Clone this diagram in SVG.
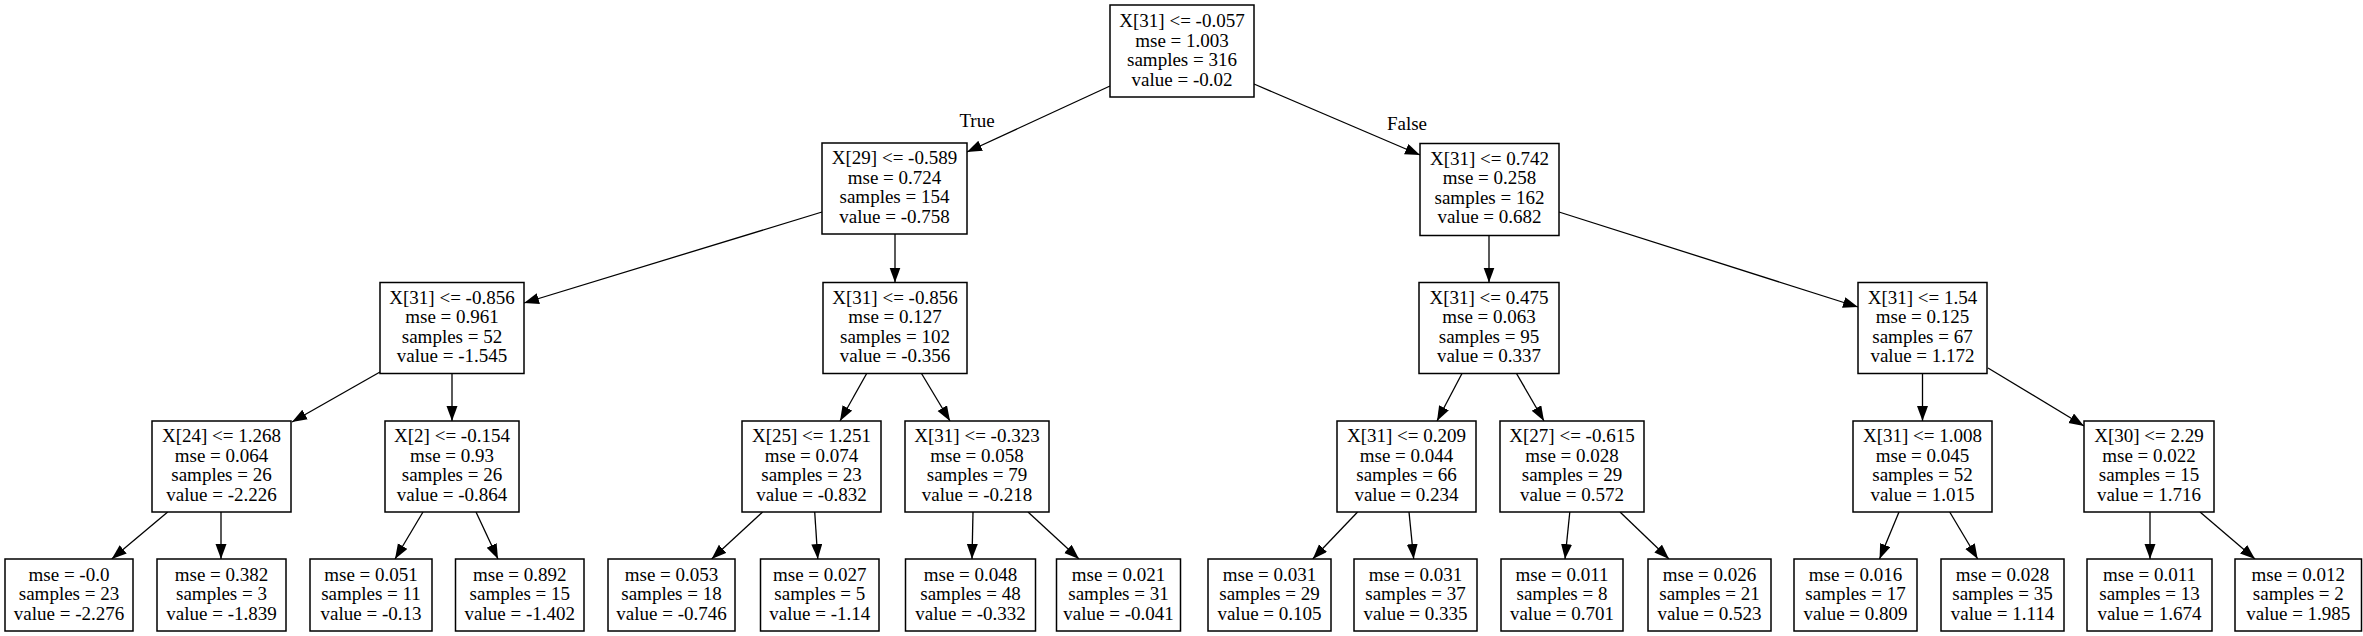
<svg xmlns="http://www.w3.org/2000/svg" width="2363" height="636" viewBox="0 0 2363 636">
<style>
.n rect{fill:#fff;stroke:#000;stroke-width:1.5}
text{font-family:"Liberation Serif","Times New Roman",serif;font-size:19px;fill:#000;text-anchor:middle}
.e line{stroke:#000;stroke-width:1.3}
</style>
<defs>
<marker id="a" markerUnits="userSpaceOnUse" markerWidth="16" markerHeight="12" refX="15" refY="5.5" orient="auto">
<path d="M0,0 L15,5.5 L0,11 z" fill="#000"/>
</marker>
</defs>
<rect width="2363" height="636" fill="#fff"/>
<g id="edges" class="e">
<line x1="1110" y1="86" x2="967" y2="152" marker-end="url(#a)"/>
<line x1="1254" y1="84" x2="1420" y2="155" marker-end="url(#a)"/>
<line x1="822" y1="212" x2="524" y2="303" marker-end="url(#a)"/>
<line x1="895" y1="234" x2="895" y2="282.5" marker-end="url(#a)"/>
<line x1="1489" y1="235" x2="1489" y2="282.5" marker-end="url(#a)"/>
<line x1="1559" y1="212" x2="1858" y2="307" marker-end="url(#a)"/>
<line x1="380" y1="372" x2="292" y2="422" marker-end="url(#a)"/>
<line x1="452" y1="373.5" x2="452" y2="421" marker-end="url(#a)"/>
<line x1="866.7" y1="373.5" x2="840" y2="421" marker-end="url(#a)"/>
<line x1="921.5" y1="373.5" x2="950" y2="421" marker-end="url(#a)"/>
<line x1="1462" y1="373.5" x2="1437" y2="421" marker-end="url(#a)"/>
<line x1="1516.5" y1="373.5" x2="1544" y2="421" marker-end="url(#a)"/>
<line x1="1922.5" y1="373.5" x2="1922.5" y2="421" marker-end="url(#a)"/>
<line x1="1988" y1="368" x2="2084" y2="426" marker-end="url(#a)"/>
<line x1="167.7" y1="512" x2="111.7" y2="559" marker-end="url(#a)"/>
<line x1="221" y1="512" x2="221" y2="559" marker-end="url(#a)"/>
<line x1="423" y1="512" x2="395" y2="559" marker-end="url(#a)"/>
<line x1="476" y1="512" x2="498" y2="559" marker-end="url(#a)"/>
<line x1="762.6" y1="512" x2="711.6" y2="559" marker-end="url(#a)"/>
<line x1="814.7" y1="512" x2="817.8" y2="559" marker-end="url(#a)"/>
<line x1="973" y1="512" x2="972" y2="559" marker-end="url(#a)"/>
<line x1="1028" y1="512" x2="1079" y2="559" marker-end="url(#a)"/>
<line x1="1357.6" y1="512" x2="1312.7" y2="559" marker-end="url(#a)"/>
<line x1="1409" y1="512" x2="1413.7" y2="559" marker-end="url(#a)"/>
<line x1="1569.8" y1="512" x2="1565" y2="559" marker-end="url(#a)"/>
<line x1="1620" y1="512" x2="1669" y2="559" marker-end="url(#a)"/>
<line x1="1899" y1="512" x2="1879.5" y2="559" marker-end="url(#a)"/>
<line x1="1949.7" y1="512" x2="1977.7" y2="559" marker-end="url(#a)"/>
<line x1="2150" y1="512" x2="2150" y2="559" marker-end="url(#a)"/>
<line x1="2200" y1="512" x2="2255" y2="559" marker-end="url(#a)"/>
<text x="977" y="127">True</text>
<text x="1407" y="130">False</text>
</g>
<g id="n0" class="n"><rect x="1110" y="5" width="144" height="92"/><text x="1182" y="27">X[31] &lt;= -0.057</text><text x="1182" y="46.5">mse = 1.003</text><text x="1182" y="66">samples = 316</text><text x="1182" y="85.5">value = -0.02</text></g>
<g id="n1" class="n"><rect x="822" y="143" width="145" height="91"/><text x="894.5" y="164">X[29] &lt;= -0.589</text><text x="894.5" y="183.5">mse = 0.724</text><text x="894.5" y="203">samples = 154</text><text x="894.5" y="222.5">value = -0.758</text></g>
<g id="n2" class="n"><rect x="1420" y="143.5" width="139" height="92"/><text x="1489.5" y="164.5">X[31] &lt;= 0.742</text><text x="1489.5" y="184">mse = 0.258</text><text x="1489.5" y="203.5">samples = 162</text><text x="1489.5" y="223">value = 0.682</text></g>
<g id="n3" class="n"><rect x="380" y="282.5" width="144" height="91"/><text x="452" y="303.5">X[31] &lt;= -0.856</text><text x="452" y="323">mse = 0.961</text><text x="452" y="342.5">samples = 52</text><text x="452" y="362">value = -1.545</text></g>
<g id="n4" class="n"><rect x="823" y="282.5" width="144" height="91"/><text x="895" y="303.5">X[31] &lt;= -0.856</text><text x="895" y="323">mse = 0.127</text><text x="895" y="342.5">samples = 102</text><text x="895" y="362">value = -0.356</text></g>
<g id="n5" class="n"><rect x="1419" y="282.5" width="140" height="91"/><text x="1489" y="303.5">X[31] &lt;= 0.475</text><text x="1489" y="323">mse = 0.063</text><text x="1489" y="342.5">samples = 95</text><text x="1489" y="362">value = 0.337</text></g>
<g id="n6" class="n"><rect x="1858" y="282.5" width="129" height="91"/><text x="1922.5" y="303.5">X[31] &lt;= 1.54</text><text x="1922.5" y="323">mse = 0.125</text><text x="1922.5" y="342.5">samples = 67</text><text x="1922.5" y="362">value = 1.172</text></g>
<g id="n7" class="n"><rect x="152" y="421" width="139" height="91"/><text x="221.5" y="442">X[24] &lt;= 1.268</text><text x="221.5" y="461.5">mse = 0.064</text><text x="221.5" y="481">samples = 26</text><text x="221.5" y="500.5">value = -2.226</text></g>
<g id="n8" class="n"><rect x="385" y="421" width="134" height="91"/><text x="452" y="442">X[2] &lt;= -0.154</text><text x="452" y="461.5">mse = 0.93</text><text x="452" y="481">samples = 26</text><text x="452" y="500.5">value = -0.864</text></g>
<g id="n9" class="n"><rect x="742" y="421" width="139" height="91"/><text x="811.5" y="442">X[25] &lt;= 1.251</text><text x="811.5" y="461.5">mse = 0.074</text><text x="811.5" y="481">samples = 23</text><text x="811.5" y="500.5">value = -0.832</text></g>
<g id="n10" class="n"><rect x="905" y="421" width="144" height="91"/><text x="977" y="442">X[31] &lt;= -0.323</text><text x="977" y="461.5">mse = 0.058</text><text x="977" y="481">samples = 79</text><text x="977" y="500.5">value = -0.218</text></g>
<g id="n11" class="n"><rect x="1337" y="421" width="139" height="91"/><text x="1406.5" y="442">X[31] &lt;= 0.209</text><text x="1406.5" y="461.5">mse = 0.044</text><text x="1406.5" y="481">samples = 66</text><text x="1406.5" y="500.5">value = 0.234</text></g>
<g id="n12" class="n"><rect x="1500" y="421" width="144" height="91"/><text x="1572" y="442">X[27] &lt;= -0.615</text><text x="1572" y="461.5">mse = 0.028</text><text x="1572" y="481">samples = 29</text><text x="1572" y="500.5">value = 0.572</text></g>
<g id="n13" class="n"><rect x="1853" y="421" width="139" height="91"/><text x="1922.5" y="442">X[31] &lt;= 1.008</text><text x="1922.5" y="461.5">mse = 0.045</text><text x="1922.5" y="481">samples = 52</text><text x="1922.5" y="500.5">value = 1.015</text></g>
<g id="n14" class="n"><rect x="2084" y="421" width="130" height="91"/><text x="2149" y="442">X[30] &lt;= 2.29</text><text x="2149" y="461.5">mse = 0.022</text><text x="2149" y="481">samples = 15</text><text x="2149" y="500.5">value = 1.716</text></g>
<g id="l1" class="n"><rect x="5" y="559" width="128" height="72"/><text x="69" y="580.5">mse = -0.0</text><text x="69" y="600">samples = 23</text><text x="69" y="619.5">value = -2.276</text></g>
<g id="l2" class="n"><rect x="157" y="559" width="129" height="72"/><text x="221.5" y="580.5">mse = 0.382</text><text x="221.5" y="600">samples = 3</text><text x="221.5" y="619.5">value = -1.839</text></g>
<g id="l3" class="n"><rect x="310" y="559" width="122" height="72"/><text x="371" y="580.5">mse = 0.051</text><text x="371" y="600">samples = 11</text><text x="371" y="619.5">value = -0.13</text></g>
<g id="l4" class="n"><rect x="455.5" y="559" width="128.5" height="72"/><text x="519.8" y="580.5">mse = 0.892</text><text x="519.8" y="600">samples = 15</text><text x="519.8" y="619.5">value = -1.402</text></g>
<g id="l5" class="n"><rect x="608" y="559" width="127" height="72"/><text x="671.5" y="580.5">mse = 0.053</text><text x="671.5" y="600">samples = 18</text><text x="671.5" y="619.5">value = -0.746</text></g>
<g id="l6" class="n"><rect x="760.5" y="559" width="118.5" height="72"/><text x="819.8" y="580.5">mse = 0.027</text><text x="819.8" y="600">samples = 5</text><text x="819.8" y="619.5">value = -1.14</text></g>
<g id="l7" class="n"><rect x="905.5" y="559" width="130" height="72"/><text x="970.5" y="580.5">mse = 0.048</text><text x="970.5" y="600">samples = 48</text><text x="970.5" y="619.5">value = -0.332</text></g>
<g id="l8" class="n"><rect x="1056.5" y="559" width="124" height="72"/><text x="1118.5" y="580.5">mse = 0.021</text><text x="1118.5" y="600">samples = 31</text><text x="1118.5" y="619.5">value = -0.041</text></g>
<g id="l9" class="n"><rect x="1208" y="559" width="123" height="72"/><text x="1269.5" y="580.5">mse = 0.031</text><text x="1269.5" y="600">samples = 29</text><text x="1269.5" y="619.5">value = 0.105</text></g>
<g id="l10" class="n"><rect x="1354" y="559" width="123" height="72"/><text x="1415.5" y="580.5">mse = 0.031</text><text x="1415.5" y="600">samples = 37</text><text x="1415.5" y="619.5">value = 0.335</text></g>
<g id="l11" class="n"><rect x="1501" y="559" width="122" height="72"/><text x="1562" y="580.5">mse = 0.011</text><text x="1562" y="600">samples = 8</text><text x="1562" y="619.5">value = 0.701</text></g>
<g id="l12" class="n"><rect x="1648" y="559" width="123" height="72"/><text x="1709.5" y="580.5">mse = 0.026</text><text x="1709.5" y="600">samples = 21</text><text x="1709.5" y="619.5">value = 0.523</text></g>
<g id="l13" class="n"><rect x="1794" y="559" width="123" height="72"/><text x="1855.5" y="580.5">mse = 0.016</text><text x="1855.5" y="600">samples = 17</text><text x="1855.5" y="619.5">value = 0.809</text></g>
<g id="l14" class="n"><rect x="1941" y="559" width="123" height="72"/><text x="2002.5" y="580.5">mse = 0.028</text><text x="2002.5" y="600">samples = 35</text><text x="2002.5" y="619.5">value = 1.114</text></g>
<g id="l15" class="n"><rect x="2087" y="559" width="125" height="72"/><text x="2149.5" y="580.5">mse = 0.011</text><text x="2149.5" y="600">samples = 13</text><text x="2149.5" y="619.5">value = 1.674</text></g>
<g id="l16" class="n"><rect x="2235" y="559" width="126.5" height="72"/><text x="2298.3" y="580.5">mse = 0.012</text><text x="2298.3" y="600">samples = 2</text><text x="2298.3" y="619.5">value = 1.985</text></g>
</svg>
